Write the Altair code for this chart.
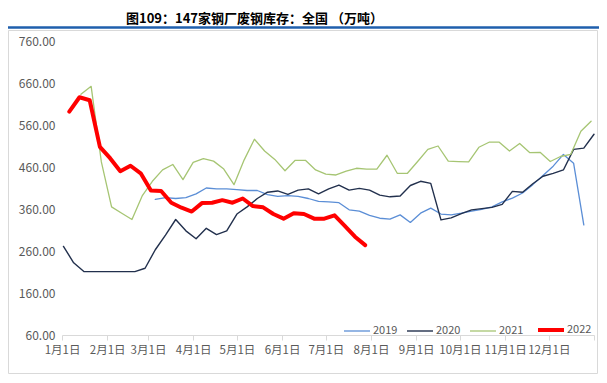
import altair as alt
import pandas as pd

title_text = "图109：147家钢厂废钢库存：全国 （万吨）"

series = ["2019", "2020", "2021", "2022"]
colors = ["#5B8ED6", "#22304D", "#A6C573", "#FF0000"]
widths = [1.3, 1.4, 1.3, 4.0]

# first observation (day of year) of each weekly series
start_day = {"2019": 64, "2020": 1, "2021": 13, "2022": 5}
step_days = 7

vals_2019 = [383, 387, 385, 387, 396, 410, 408, 408, 406, 404,
             404, 394, 390, 392, 390, 385, 378, 377, 375, 358,
             355, 345, 338, 336, 346, 328, 350, 362, 348, 346,
             350, 355, 359, 365, 377, 386, 398, 418, 440, 462,
             490, 469, 322]
vals_2020 = [271, 232, 211, 211, 211, 211, 211, 211, 219, 263,
             298, 335, 308, 289, 314, 299, 308, 348, 365, 385,
             400, 403, 395, 405, 408, 396, 408, 417, 405, 409,
             405, 393, 389, 391, 416, 426, 421, 334, 339, 349,
             358, 361, 364, 371, 402, 400, 420, 438, 445, 453,
             502, 505, 538]
vals_2021 = [633, 652, 472, 365, 350, 335, 391, 426, 453, 466,
             430, 471, 480, 474, 455, 418, 477, 526, 498, 478,
             451, 476, 476, 453, 443, 441, 450, 457, 455, 455,
             488, 445, 445, 473, 502, 510, 474, 473, 472, 507,
             519, 519, 498, 516, 494, 495, 473, 485, 490, 545,
             569]
vals_2022 = [592, 626, 619, 508, 481, 450, 463, 445, 404, 403,
             375, 363, 354, 374, 375, 381, 375, 385, 367, 364,
             348, 337, 350, 348, 337, 337, 345, 320, 294, 274]

tick_days = [0, 31, 59, 90, 120, 151, 181, 212, 243, 273, 304, 334, 365]
tick_labels = ["1月1日", "2月1日", "3月1日", "4月1日", "5月1日", "6月1日",
               "7月1日", "8月1日", "9月1日", "10月1日", "11月1日", "12月1日", ""]
y_ticks = [60, 160, 260, 360, 460, 560, 660, 760]

rows = []
for name, vals in zip(series, [vals_2019, vals_2020, vals_2021, vals_2022]):
    for i, v in enumerate(vals):
        rows.append({"series": name, "day": start_day[name] + step_days * i, "value": v})
df = pd.DataFrame(rows)

label_expr = ("[" + ",".join("'" + t + "'" for t in tick_labels) + "]"
              "[indexof([" + ",".join(str(d) for d in tick_days) + "], datum.value)]")

W, H = 532, 294
FONT = "Noto Sans CJK SC"

legend = alt.Legend(
    title=None, orient="none", legendX=280, legendY=274, direction="horizontal",
    columns=4, symbolType="stroke", symbolSize=676, labelOffset=1,
    columnPadding=6, padding=0, labelFontSize=11, labelColor="#595959",
    labelFont=FONT,
)

lines = alt.Chart(df).mark_line(strokeJoin="round", strokeCap="round").encode(
    x=alt.X("day:Q", scale=alt.Scale(domain=[0, 365], nice=False, zero=False),
            axis=alt.Axis(title=None, values=tick_days, labelExpr=label_expr, grid=False,
                          domainColor="#D9D9D9", tickColor="#D9D9D9", tickSize=5,
                          labelPadding=4, labelFontSize=11.5, labelColor="#595959",
                          labelFont=FONT, labelFlush=False, labelOverlap=False)),
    y=alt.Y("value:Q", scale=alt.Scale(domain=[60, 760], nice=False, zero=False),
            axis=alt.Axis(title=None, values=y_ticks, format=".2f", grid=False,
                          domain=False, ticks=False, labelPadding=7, labelFontSize=12,
                          labelColor="#595959", labelFont=FONT)),
    color=alt.Color("series:N", scale=alt.Scale(domain=series, range=colors), legend=legend),
    strokeWidth=alt.StrokeWidth("series:N", scale=alt.Scale(type="ordinal", domain=series, range=widths),
                                legend=legend),
    order=alt.Order("day:Q"),
)

one = pd.DataFrame({"title": [title_text]})
blue_rule = alt.Chart(one).mark_rule(color="#1F5FAD", strokeWidth=2.5).encode(
    x=alt.value(-54), x2=alt.value(545), y=alt.value(-13.5)
)
frame = alt.Chart(one).mark_rect(fillOpacity=0, stroke="#D9D9D9", strokeWidth=1).encode(
    x=alt.value(-53.5), x2=alt.value(535.5), y=alt.value(-10.5), y2=alt.value(332.5)
)
title = alt.Chart(one).mark_text(
    align="left", baseline="alphabetic", font=FONT, fontSize=13, fontWeight="bold", color="#000000"
).encode(x=alt.value(64), y=alt.value(-18), text="title:N")

chart = alt.layer(frame, blue_rule, title, lines).properties(
    width=W, height=H,
    autosize=alt.AutoSizeParams(type="none"),
    padding={"left": 54, "top": 33, "right": 5, "bottom": 40},
).configure_view(stroke=None)

chart.save("out.html", embed_options={"renderer": "svg", "actions": False})
